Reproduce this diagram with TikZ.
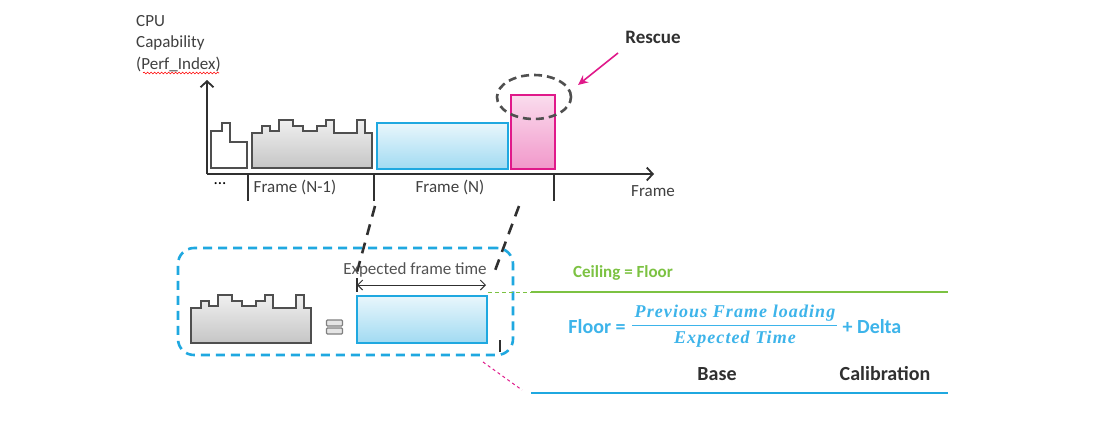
\documentclass[tikz,border=0pt]{standalone}
\usepackage{fontspec}
\setmainfont{Carlito}
\newfontfamily\fracfont[LetterSpace=6]{Liberation Serif}
\usetikzlibrary{arrows.meta,decorations.pathmorphing,shapes.geometric}
\definecolor{txt}{HTML}{404040}
\definecolor{dark}{HTML}{303030}
\definecolor{cblue}{HTML}{1FA8E0}
\definecolor{lblue}{HTML}{3DB4EA}
\definecolor{cpink}{HTML}{E0198A}
\definecolor{cgreen}{HTML}{7CC242}
\tikzset{
  lbl/.style={font=\fontsize{17}{20}\selectfont, text=txt, inner sep=0pt},
  axisline/.style={draw=dark, line width=1.8pt},
  tick/.style={draw=dark, line width=1.6pt},
  graybox/.style={draw=dark!85, line width=1.8pt, top color=gray!12, bottom color=gray!45},
  bluebox/.style={draw=cblue, line width=1.8pt, top color=cblue!10, bottom color=cblue!42, inner sep=0pt},
  pinkbox/.style={draw=cpink, line width=1.8pt, top color=cpink!15, bottom color=cpink!45, inner sep=0pt},
  blackdash/.style={draw=dark, line width=2.6pt, dash pattern=on 11pt off 8pt},
  eqbar/.style={draw=gray, fill=gray!20, line width=1.2pt, rounded corners=1pt, minimum width=16, minimum height=6, inner sep=0pt},
  skyline/.pic={
    \draw[graybox] (0,0) -- (0,-35) -- (10,-35) -- (10,-42) -- (18,-42) -- (18,-37) -- (27,-37) -- (27,-48) -- (41,-48) -- (41,-42) -- (51,-42) -- (51,-37) -- (65,-37) -- (65,-42) -- (74,-42) -- (74,-48) -- (82,-48) -- (82,-35) -- (105,-35) -- (105,-48) -- (113,-48) -- (113,-35) -- (120,-35) -- (120,0) -- cycle;
  }
}
\begin{document}
\begin{tikzpicture}[x=1pt,y=-1pt]
\useasboundingbox (0,0) rectangle (1107,424);
\fill[white] (0,0) rectangle (1107,424);

% Y axis label
\node[lbl, align=left, anchor=west, font=\fontsize{17}{21.5}\selectfont] (ylab) at (136,43.5) {CPU\\Capability\\(Perf\_Index)};
\coordinate (wav1) at (143,73);
\coordinate (wav2) at (219,73);
\draw[red, line width=0.6pt, decorate, decoration={snake, amplitude=0.9pt, segment length=3.5pt}] (wav1) -- (wav2);

% axes
\coordinate (O) at (207,174);
\coordinate (Ytop) at (207,80);
\coordinate (Xend) at (654,174);
\draw[axisline, -{Straight Barb[length=6pt,width=13pt]}] (O) -- (Ytop);
\draw[axisline, -{Straight Barb[length=6pt,width=13pt]}] (O) -- (Xend);

% ticks
\coordinate (t1a) at (248,174); \coordinate (t1b) at (248,201);
\coordinate (t2a) at (374,174); \coordinate (t2b) at (374,201);
\coordinate (t3a) at (554,174); \coordinate (t3b) at (554,201);
\draw[tick] (t1a) -- (t1b);
\draw[tick] (t2a) -- (t2b);
\draw[tick] (t3a) -- (t3b);

% frames in the upper chart
\draw[draw=dark!85, line width=1.8pt, fill=white] (211,168) -- (211,131) -- (222,131) -- (222,123) -- (230,123) -- (230,142) -- (247,142) -- (247,168) -- cycle;
\pic at (252,168) {skyline};
\node[bluebox, minimum width=131, minimum height=46, anchor=south west] (fN) at (376,170) {};
\node[pinkbox, minimum width=44, minimum height=74, anchor=south west] (resc) at (510,170) {};
\node[draw=dark!85, ellipse, line width=2.6pt, dash pattern=on 8pt off 5pt, minimum width=74, minimum height=44, inner sep=0pt] (circ) at (534,97) {};

% axis labels
\node[lbl, text=black] (dots) at (220,184) {...};
\node[lbl] (lN1) at (295,187) {Frame (N-1)};
\node[lbl] (lN) at (450,187) {Frame (N)};
\node[lbl] (lX) at (653,191) {Frame};

% Rescue
\node[font=\fontsize{19}{22}\selectfont\bfseries, text=dark, inner sep=0pt] (rescue) at (653,37) {Rescue};
\coordinate (ra) at (618,53);
\coordinate (rb) at (578,85);
\draw[cpink, line width=1.6pt, -{Stealth[length=10pt,width=9pt]}] (ra) -- (rb);

% projection dashes
\coordinate (d1a) at (375,206); \coordinate (d1b) at (357,272);
\coordinate (d2a) at (519,206); \coordinate (d2b) at (493,276);
\draw[blackdash] (d1a) -- (d1b);
\draw[blackdash] (d2a) -- (d2b);

% lower detail
\node[draw=cblue, line width=2.6pt, dash pattern=on 9pt off 6pt, rounded corners=16pt, minimum width=335, minimum height=107, inner sep=0pt] (zoombox) at (345.5,301.5) {};
\pic at (191,343) {skyline};
\node[eqbar] (eq1) at (334.5,323) {};
\node[eqbar] (eq2) at (334.5,331) {};
\node[bluebox, minimum width=130, minimum height=47] (fexp) at (422,319.5) {};

% expected frame time
\coordinate (ea) at (357,285);
\coordinate (eb) at (486,285);
\coordinate (ebar1) at (357,278);
\coordinate (ebar2) at (357,292);
\draw[dark, line width=1pt, {Straight Barb[length=5pt,width=10pt]}-{Straight Barb[length=5pt,width=10pt]}] (ea) -- (eb);
\draw[dark, line width=1.4pt] (ebar1) -- (ebar2);
\node[lbl, text=txt!90] (etxt) at (415,270) {Expected frame time};

\coordinate (tk1) at (500,340); \coordinate (tk2) at (500,352);
\draw[dark, line width=1.4pt] (tk1) -- (tk2);

% ceiling line
\node[font=\fontsize{17}{20}\selectfont\bfseries, text=cgreen, inner sep=0pt] (ceil) at (623,273) {Ceiling = Floor};
\coordinate (g0) at (488,292); \coordinate (g1) at (531,292); \coordinate (g2) at (948,292);
\draw[cgreen, line width=1pt, dash pattern=on 4pt off 3pt] (g0) -- (g1);
\draw[cgreen, line width=2.4pt] (g1) -- (g2);

% formula
\node[font=\fontsize{20}{24}\selectfont\bfseries, text=lblue, inner sep=0pt] (floorl) at (597,327) {Floor =};
\node[font=\fontsize{18}{20}\selectfont\fracfont\bfseries\itshape, text=lblue, inner sep=0pt] (num) at (735,313) {Previous Frame loading};
\node[font=\fontsize{18}{20}\selectfont\fracfont\bfseries\itshape, text=lblue, inner sep=0pt] (den) at (735,339) {Expected Time};
\coordinate (fb1) at (632,325.5); \coordinate (fb2) at (837,325.5);
\draw[lblue, line width=1.2pt] (fb1) -- (fb2);
\node[font=\fontsize{20}{24}\selectfont\bfseries, text=lblue, inner sep=0pt] (delta) at (872,327) {+ Delta};

\node[font=\fontsize{20}{24}\selectfont\bfseries, text=dark, inner sep=0pt] (base) at (717,374) {Base};
\node[font=\fontsize{20}{24}\selectfont\bfseries, text=dark, inner sep=0pt] (calib) at (885,374) {Calibration};
\coordinate (b1) at (531,393); \coordinate (b2) at (948,393);
\draw[cblue, line width=2.6pt] (b1) -- (b2);

% pink dashed
\coordinate (p1) at (483,362); \coordinate (p2) at (522,390);
\draw[cpink, line width=1pt, dash pattern=on 3pt off 3pt] (p1) -- (p2);
\end{tikzpicture}
\end{document}
